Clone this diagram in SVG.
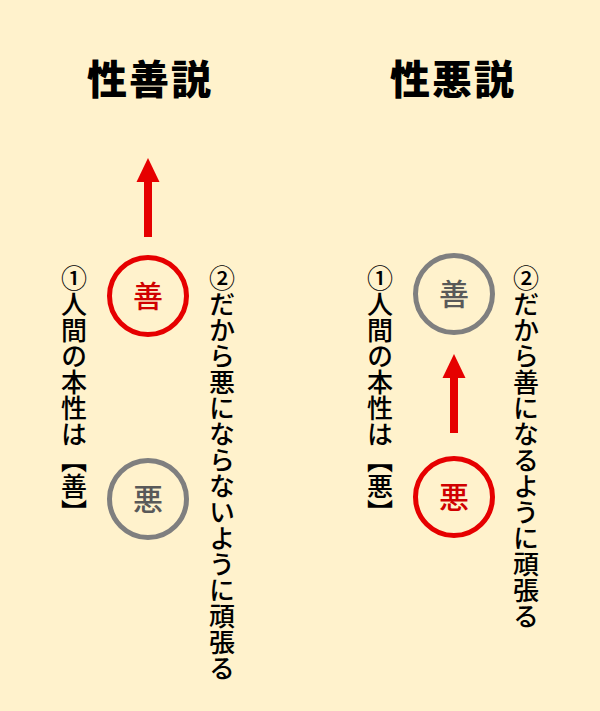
<svg xmlns="http://www.w3.org/2000/svg" width="600" height="711" viewBox="0 0 600 711">
<style>
.t{font-family:"Noto Sans CJK JP","Noto Sans CJK SC",sans-serif}
.title{font-size:40px;font-weight:900;fill:#000;text-anchor:middle}
.col{font-size:26px;font-weight:500;fill:#000;writing-mode:vertical-rl;text-anchor:start}
.red{fill:none;stroke:#E60000;stroke-width:5}
.gray{fill:none;stroke:#7F7F7F;stroke-width:5}
.lr{font-size:30px;font-weight:500;fill:#D00000;text-anchor:middle}
.lg{font-size:30px;font-weight:500;fill:#595959;text-anchor:middle}
.arr{stroke:#E60000;stroke-width:8;fill:none}
</style>
<defs>
<marker id="ah" markerUnits="userSpaceOnUse" markerWidth="24" markerHeight="24" refX="0" refY="11.5" orient="auto" viewBox="0 0 24 23">
<path d="M0,0 L24,11.5 L0,23 z" fill="#E60000"/>
</marker>
</defs>
<rect width="600" height="711" fill="#FFF2CC"/>
<g id="title-left"><text class="t title" x="150" y="94" letter-spacing="2">性善説</text></g>
<g id="title-right"><text class="t title" x="453" y="94" letter-spacing="2">性悪説</text></g>
<g id="left-good"><circle class="red" cx="148" cy="296" r="38.5"/><text class="t lr" x="148" y="307">善</text></g>
<g id="left-evil"><circle class="gray" cx="148" cy="499" r="38.5"/><text class="t lg" x="148" y="510">悪</text></g>
<g id="right-good"><circle class="gray" cx="454" cy="294" r="38.5"/><text class="t lg" x="454" y="305">善</text></g>
<g id="right-evil"><circle class="red" cx="454" cy="497" r="38.5"/><text class="t lr" x="454" y="508">悪</text></g>
<g id="left-note1"><text class="t col" x="74" y="265">①人間の本性は【善】</text></g>
<g id="left-note2"><text class="t col" x="222" y="265">②だから悪にならないように頑張る</text></g>
<g id="right-note1"><text class="t col" x="380" y="265">①人間の本性は【悪】</text></g>
<g id="right-note2"><text class="t col" x="526" y="265">②だから善になるように頑張る</text></g>
<g id="connectors">
<line class="arr" x1="148" y1="237" x2="148" y2="182" marker-end="url(#ah)"/>
<line class="arr" x1="454" y1="433" x2="454" y2="378" marker-end="url(#ah)"/>
</g>
</svg>
